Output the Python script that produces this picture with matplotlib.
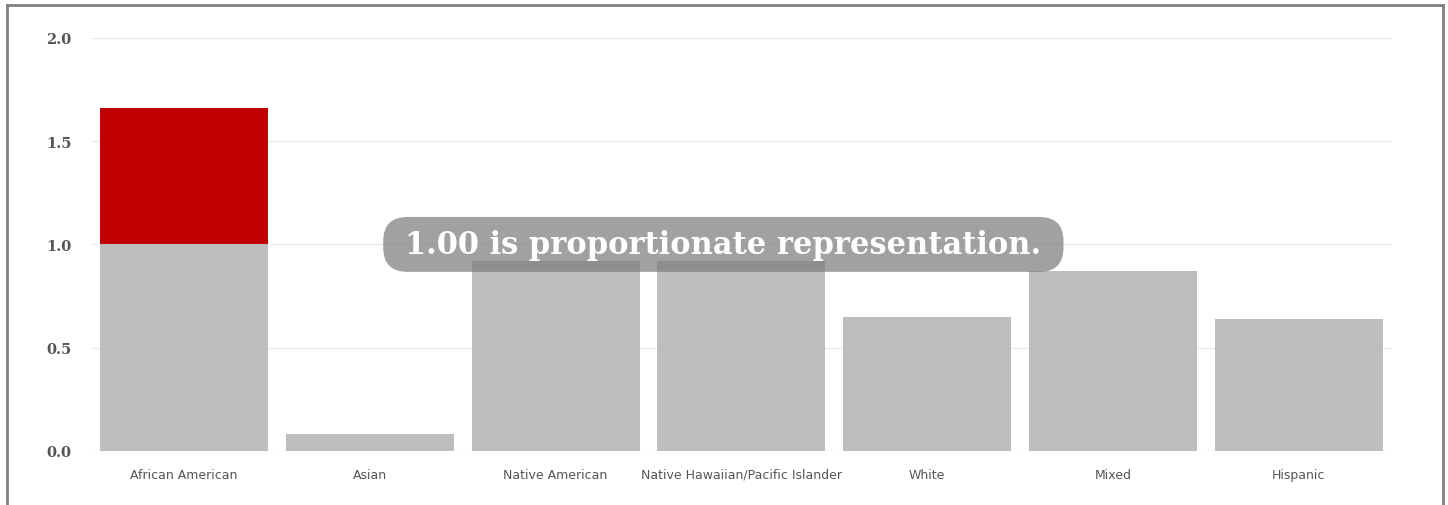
import matplotlib.pyplot as plt
from matplotlib.patches import FancyBboxPatch

groups = ["African American", "Asian", "Native American",
          "Native Hawaiian/Pacific Islander", "White", "Mixed", "Hispanic"]
# representation ratio, split at 1.00 so the excess can be highlighted
base = [1.00, 0.08, 0.92, 0.92, 0.65, 0.87, 0.64]
excess = [0.66, 0, 0, 0, 0, 0, 0]
y_ticks = [0.0, 0.5, 1.0, 1.5, 2.0]
note = "1.00 is proportionate representation."

fig = plt.figure(figsize=(14.48, 5.06), dpi=100, facecolor='w')
ax = fig.add_axes([0.063, 0.107, 0.898, 0.816])

x = list(range(len(groups)))
ax.bar(x, base, width=0.905, color='#bebebe', zorder=2)
ax.bar(x, excess, bottom=base, width=0.905, color='#c00000', zorder=2)

ax.set_xlim(-0.5, len(groups) - 0.5)
ax.set_ylim(0, 2.0)
ax.set_yticks(y_ticks)
ax.set_yticklabels([f"{t:.1f}" for t in y_ticks], family='DejaVu Serif',
                   fontweight='bold', fontsize=10.5, color='#555555')
ax.set_xticks(x)
ax.set_xticklabels(groups, family='DejaVu Sans', fontsize=9, color='#555555')
ax.tick_params(length=0)
ax.tick_params(axis='y', pad=14)
ax.tick_params(axis='x', pad=12)
ax.grid(axis='y', color='#ebebeb', linewidth=1, zorder=0)
for s in ax.spines.values():
    s.set_visible(False)

# rounded note box sitting on the 1.00 line
ax.add_patch(FancyBboxPatch((1.072, 0.867), 4.734 - 1.072, 1.133 - 0.867,
                            boxstyle="round,pad=0,rounding_size=0.13",
                            mutation_aspect=0.9, facecolor='#7a7a7a',
                            edgecolor='none', alpha=0.7, zorder=4))
ax.text(2.9, 1.0, note, ha='center', va='center',
        family='DejaVu Serif', fontweight='bold', fontsize=22,
        color='white', zorder=5)

# outer frame, open at the bottom
for xs, ys in [([7, 7], [506, 6]), ([7, 1443], [6, 6]), ([1443, 1443], [6, 506])]:
    fig.add_artist(plt.Line2D([v / 1448 for v in xs], [1 - v / 506 for v in ys],
                              color='#808080', linewidth=2,
                              transform=fig.transFigure))

fig.savefig('out.png', dpi=100)
